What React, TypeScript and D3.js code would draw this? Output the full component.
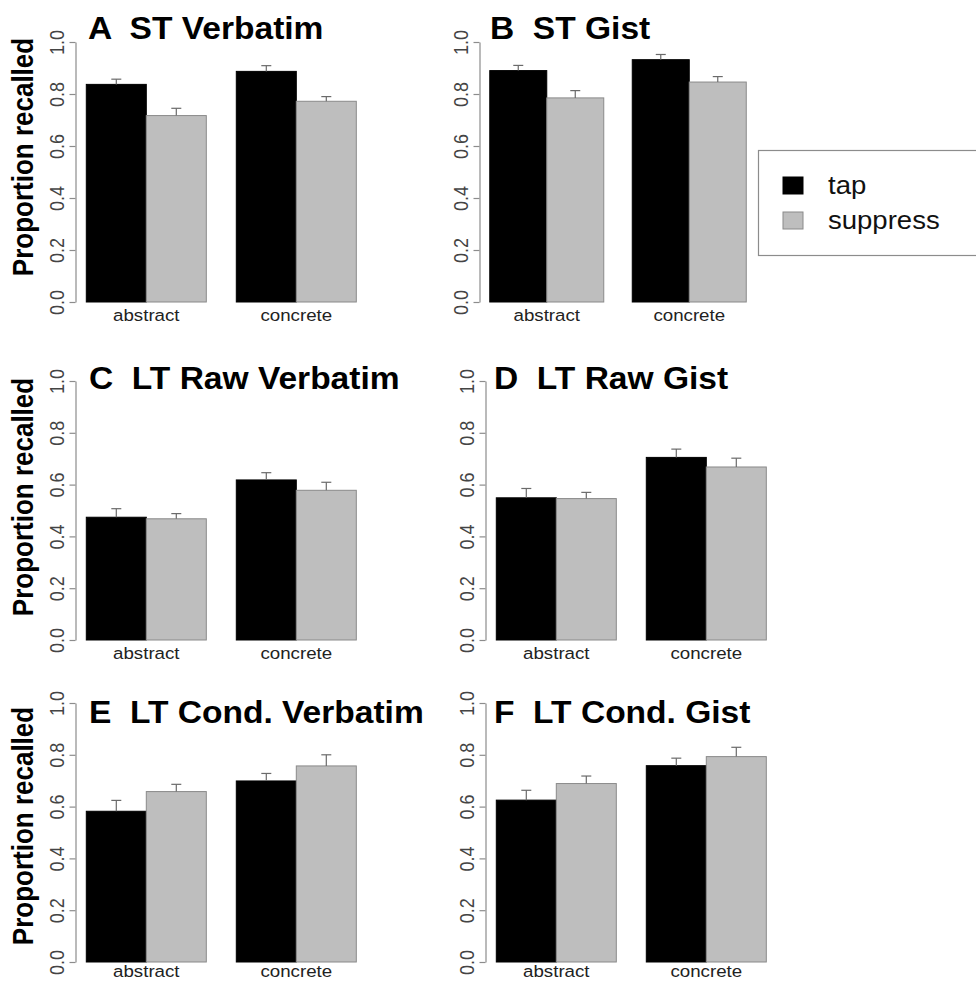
import { useRef, useEffect } from 'react';
import * as d3 from 'd3';

const categories = ['abstract', 'concrete'];
const series = ['tap', 'suppress'];
const seriesFill = ['#000000', '#bebebe'];
const seriesStroke = ['#000000', '#8a8a8a'];

const panelLetters = ['A', 'B', 'C', 'D', 'E', 'F'];
const panelTitles = [
  'ST Verbatim',
  'ST Gist',
  'LT Raw Verbatim',
  'LT Raw Gist',
  'LT Cond. Verbatim',
  'LT Cond. Gist',
];

// per panel: [abstract, concrete]
const tapMean = [
  [0.837, 0.887],
  [0.89, 0.932],
  [0.474, 0.618],
  [0.549, 0.705],
  [0.582, 0.699],
  [0.625, 0.758],
];
const tapSE = [
  [0.02, 0.022],
  [0.02, 0.02],
  [0.033, 0.028],
  [0.036, 0.032],
  [0.042, 0.029],
  [0.038, 0.029],
];
const suppressMean = [
  [0.717, 0.772],
  [0.785, 0.846],
  [0.468, 0.578],
  [0.546, 0.668],
  [0.658, 0.757],
  [0.689, 0.793],
];
const suppressSE = [
  [0.028, 0.018],
  [0.028, 0.021],
  [0.02, 0.031],
  [0.024, 0.034],
  [0.028, 0.043],
  [0.029, 0.036],
];

const yTicks = [0, 0.2, 0.4, 0.6, 0.8, 1.0];

// pixel layout of each panel's plot region
const panels = [
  { axisX: 75.5, top: 42, bottom: 302, barW: 60, titleX: 88, titleY: 39 },
  { axisX: 479.5, top: 42, bottom: 302, barW: 57, titleX: 490, titleY: 39 },
  { axisX: 75.5, top: 381, bottom: 640, barW: 60, titleX: 89, titleY: 389 },
  { axisX: 485.5, top: 381, bottom: 640, barW: 60, titleX: 494, titleY: 389 },
  { axisX: 75.5, top: 703, bottom: 962, barW: 60, titleX: 89, titleY: 723 },
  { axisX: 485.5, top: 703, bottom: 962, barW: 60, titleX: 494, titleY: 723 },
];
const yLabelCenters = [157, 497, 826];

const FONT = 'Liberation Sans, Arial, Helvetica, sans-serif';
const SX = 1.1; // the original text is a little stretched horizontally

export default function App() {
  const svgRef = useRef(null);

  useEffect(() => {
    const svg = d3.select(svgRef.current);
    svg.selectAll('*').remove();

    panels.forEach((p, i) => {
      const g = svg.append('g');
      const yScale = d3.scaleLinear().domain([0, 1]).range([p.bottom, p.top]);
      // R barplot style: space 0 within group, 0.5 between, 4% padding
      const xScale = d3
        .scaleLinear()
        .domain([0.32, 5.18])
        .range([p.axisX, p.axisX + 4.86 * p.barW]);

      const means = [tapMean[i], suppressMean[i]];
      const ses = [tapSE[i], suppressSE[i]];

      const bars = [];
      categories.forEach((c, ci) => {
        series.forEach((s, si) => {
          const left = 0.5 + ci * 2.5 + si;
          bars.push({ c, ci, s, si, left, v: means[si][ci], se: ses[si][ci] });
        });
      });

      // bars
      g.selectAll('rect.bar')
        .data(bars)
        .enter()
        .append('rect')
        .attr('x', (d) => xScale(d.left))
        .attr('width', (d) => xScale(d.left + 1) - xScale(d.left))
        .attr('y', (d) => yScale(d.v))
        .attr('height', (d) => yScale(0) - yScale(d.v))
        .attr('fill', (d) => seriesFill[d.si])
        .attr('stroke', (d) => seriesStroke[d.si])
        .attr('stroke-width', 1);

      // error bars (upper only)
      const eb = g.selectAll('g.err').data(bars).enter().append('g');
      eb.append('line')
        .attr('x1', (d) => xScale(d.left + 0.5))
        .attr('x2', (d) => xScale(d.left + 0.5))
        .attr('y1', (d) => yScale(d.v))
        .attr('y2', (d) => yScale(d.v + d.se))
        .attr('stroke', '#6a6a6a')
        .attr('stroke-width', 1.2);
      eb.append('line')
        .attr('x1', (d) => xScale(d.left + 0.5) - 5)
        .attr('x2', (d) => xScale(d.left + 0.5) + 5)
        .attr('y1', (d) => yScale(d.v + d.se))
        .attr('y2', (d) => yScale(d.v + d.se))
        .attr('stroke', '#6a6a6a')
        .attr('stroke-width', 1.2);

      // y axis
      const yAxis = d3
        .axisLeft(yScale)
        .tickValues(yTicks)
        .tickFormat(d3.format('.1f'))
        .tickSize(6)
        .tickSizeOuter(0);
      const ax = g
        .append('g')
        .attr('transform', `translate(${p.axisX},0)`)
        .call(yAxis);
      ax.select('.domain').attr('stroke', '#8c8c8c').attr('stroke-width', 1.2);
      ax.selectAll('.tick line').attr('stroke', '#8c8c8c').attr('stroke-width', 1.2);
      ax.selectAll('.tick text')
        .attr('x', null)
        .attr('dy', null)
        .attr('transform', `translate(-12,0) scale(${SX},1) rotate(-90)`)
        .attr('text-anchor', 'middle')
        .attr('fill', '#444')
        .attr('font-family', FONT)
        .attr('font-size', 18);

      // category labels (kept inside the page at the bottom row)
      const labelY = Math.min(p.bottom + 19, 977);
      categories.forEach((c, ci) => {
        g.append('text')
          .attr(
            'transform',
            `translate(${xScale(0.5 + ci * 2.5 + 1)},${labelY}) scale(${SX},1)`
          )
          .attr('text-anchor', 'middle')
          .attr('font-family', FONT)
          .attr('font-size', 17)
          .attr('fill', '#222')
          .text(c);
      });

      // panel title
      g.append('text')
        .attr('transform', `translate(${p.titleX},${p.titleY}) scale(${SX},1)`)
        .attr('font-family', FONT)
        .attr('font-weight', 'bold')
        .attr('font-size', 30.5)
        .style('white-space', 'pre')
        .text(`${panelLetters[i]}  ${panelTitles[i]}`);
    });

    // y axis titles (left column only)
    yLabelCenters.forEach((cy) => {
      svg
        .append('text')
        .attr('transform', `translate(33,${cy}) scale(${SX},1) rotate(-90)`)
        .attr('text-anchor', 'middle')
        .attr('font-family', FONT)
        .attr('font-weight', 'bold')
        .attr('font-size', 26)
        .text('Proportion recalled');
    });

    // legend
    const lg = svg.append('g');
    lg.append('rect')
      .attr('x', 758.5)
      .attr('y', 150.5)
      .attr('width', 260)
      .attr('height', 105)
      .attr('fill', 'white')
      .attr('stroke', '#8c8c8c')
      .attr('stroke-width', 1.2);
    series.forEach((s, si) => {
      const y = 177 + si * 35;
      lg.append('rect')
        .attr('x', 783)
        .attr('y', y)
        .attr('width', 20)
        .attr('height', 17)
        .attr('fill', seriesFill[si])
        .attr('stroke', seriesStroke[si]);
      lg.append('text')
        .attr('transform', `translate(828,${y + 17}) scale(1.08,1)`)
        .attr('font-family', FONT)
        .attr('font-size', 25.5)
        .attr('fill', '#111')
        .text(s);
    });
  }, []);

  return (
    <svg
      ref={svgRef}
      width={976}
      height={983}
      style={{ position: 'absolute', left: 0, top: 0, background: 'white' }}
    ></svg>
  );
}
